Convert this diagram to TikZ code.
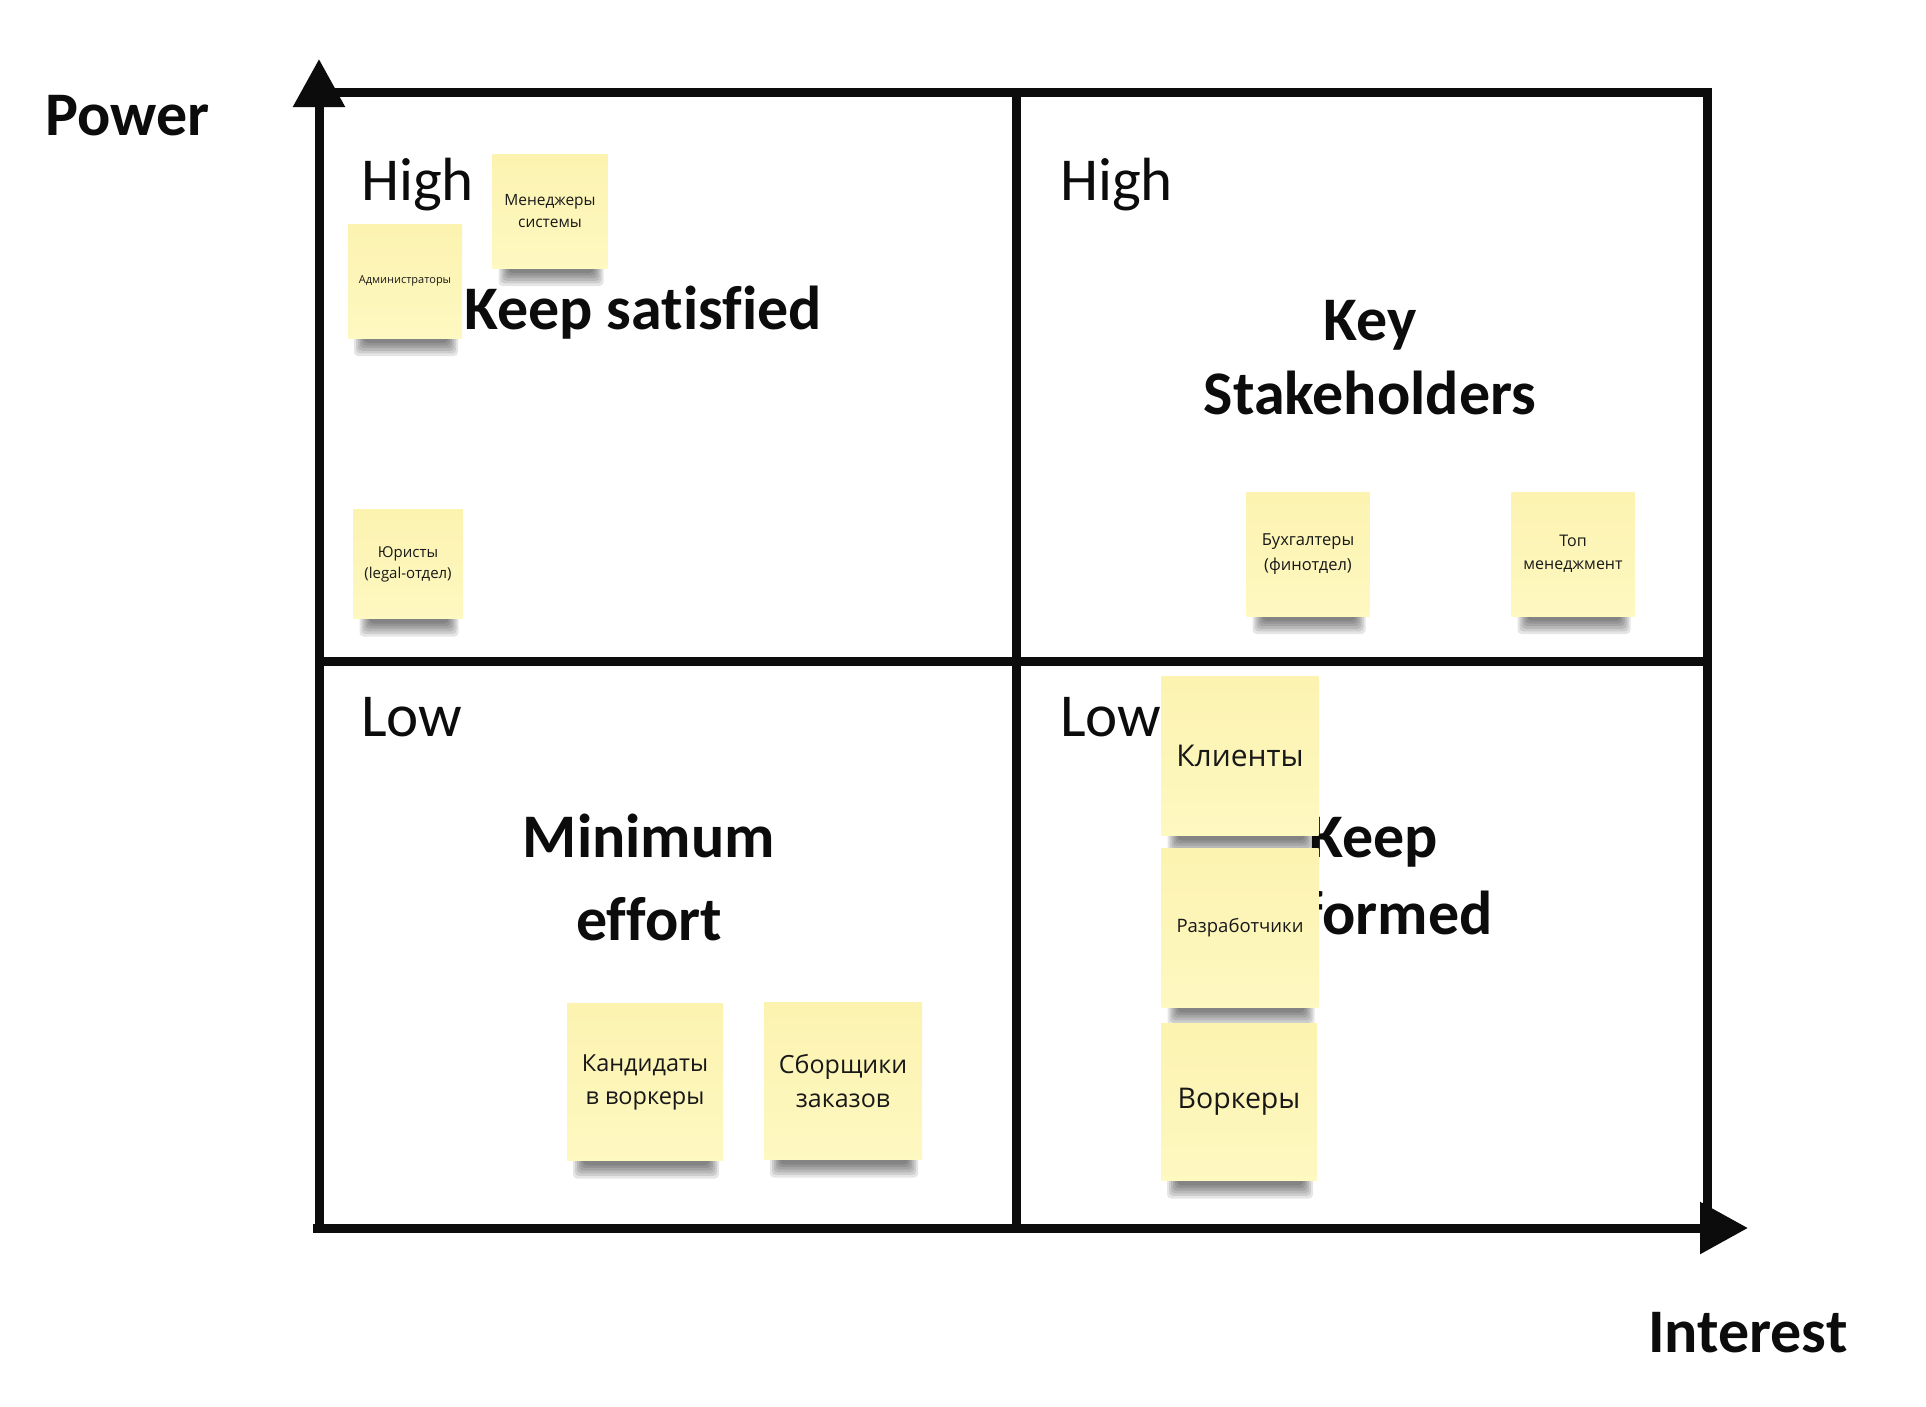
\documentclass[tikz,border=0pt]{standalone}
\usepackage{fontspec}
\setmainfont{Carlito}[Ligatures={NoCommon}]
\newfontfamily\notefont{Open Sans}
\usetikzlibrary{arrows.meta}

\definecolor{notetop}{RGB}{252,243,176}
\definecolor{notebottom}{RGB}{254,248,193}
\definecolor{notetext}{RGB}{24,24,24}
\definecolor{ink}{RGB}{12,12,12}

\tikzset{
  gridline/.style={line width=9pt, draw=ink, line join=miter},
  axisarrow/.style={gridline, -{Triangle[length=48pt,width=50pt]}},
  quadlabel/.style={font=\fontsize{61}{72}\selectfont, text=ink, inner sep=0pt, anchor=base west},
  quadtitle/.style={font=\bfseries\fontsize{62}{74}\selectfont, text=ink, inner sep=0pt, anchor=base},
  note/.style={top color=notetop, bottom color=notebottom, draw=none, align=center, text=notetext, inner sep=0pt},
}

% sticky note with a soft shadow under its lower edge:
% name, centre x, centre y, width, height, font size, text
\newcommand\stickynote[7]{%
  \foreach \k in {0,...,5}{
    \fill[black, opacity=0.1, rounded corners=4pt]
      ({#2-#4/2+6+2*\k},{#3+#5/2-3}) rectangle ({#2+#4/2-4-2*\k},{#3+#5/2+18-2.6*\k});
  }
  \node[note, minimum width=#4, minimum height=#5, font={\notefont#6}] (#1) at (#2,#3) {#7};
}

\begin{document}
\begin{tikzpicture}[x=1pt, y=-1pt]
\useasboundingbox[fill=white] (0,0) rectangle (1926,1406);

% axes and quadrant grid
\coordinate (origin) at (319,1228);
\coordinate (xstart) at (313,1228);
\coordinate (ytip) at (319,59);
\coordinate (xtip) at (1748,1228);
\coordinate (tl) at (319,92);
\coordinate (tr) at (1707,92);
\coordinate (br) at (1707,1228);
\coordinate (midtop) at (1016,92);
\coordinate (midbot) at (1016,1228);
\coordinate (midleft) at (319,661);
\coordinate (midright) at (1707,661);

\draw[gridline] (tl) -- (tr) -- (br);
\draw[gridline] (midtop) -- (midbot);
\draw[gridline] (midleft) -- (midright);
\draw[axisarrow] (origin) -- (ytip);
\draw[axisarrow] (xstart) -- (xtip);

% axis names
\node[quadtitle, anchor=base west] (power) at (45,135) {Power};
\node[quadtitle, anchor=base west] (interest) at (1648,1352) {Interest};

% quadrant levels
\node[quadlabel] (hi1) at (361,200) {High};
\node[quadlabel] (hi2) at (1060,200) {High};
\node[quadlabel] (lo1) at (361,736) {Low};
\node[quadlabel] (lo2) at (1060,736) {Low};

% quadrant titles
\node[quadtitle, anchor=base west] (satisfied) at (464,329) {Keep satisfied};
\node[quadtitle] (key1) at (1370,340) {Key};
\node[quadtitle] (key2) at (1370,414) {Stakeholders};
\node[quadtitle] (min1) at (649,857) {Minimum};
\node[quadtitle] (min2) at (649,940) {effort};
\node[quadtitle] (inf1) at (1374,857) {Keep};
\node[quadtitle] (inf2) at (1374,934) {informed};

% stakeholder notes
\stickynote{mgr}{550}{211}{115}{114}{\fontsize{15.5}{22}\selectfont}{Менеджеры\\системы}
\stickynote{adm}{405}{281}{114}{114}{\fontsize{11}{14}\selectfont}{Администраторы}
\stickynote{law}{408}{564}{109}{109}{\fontsize{15}{21}\selectfont}{Юристы\\(legal-отдел)}
\stickynote{acc}{1308}{554}{123}{124}{\fontsize{16.5}{25}\selectfont}{Бухгалтеры\\(финотдел)}
\stickynote{top}{1573}{554}{123}{124}{\fontsize{16}{23}\selectfont}{Топ\\менеджмент}
\stickynote{cli}{1240}{756}{157}{159}{\fontsize{30}{36}\selectfont}{Клиенты}
\stickynote{dev}{1240}{928}{157}{159}{\fontsize{18.5}{24}\selectfont}{Разработчики}
\stickynote{wrk}{1239}{1102}{156}{157}{\fontsize{28.5}{34}\selectfont}{Воркеры}
\stickynote{cand}{645}{1082}{156}{157}{\fontsize{23.5}{33}\selectfont}{Кандидаты\\в воркеры}
\stickynote{pick}{843}{1081}{158}{157}{\fontsize{25}{34}\selectfont}{Сборщики\\заказов}
\end{tikzpicture}
\end{document}
